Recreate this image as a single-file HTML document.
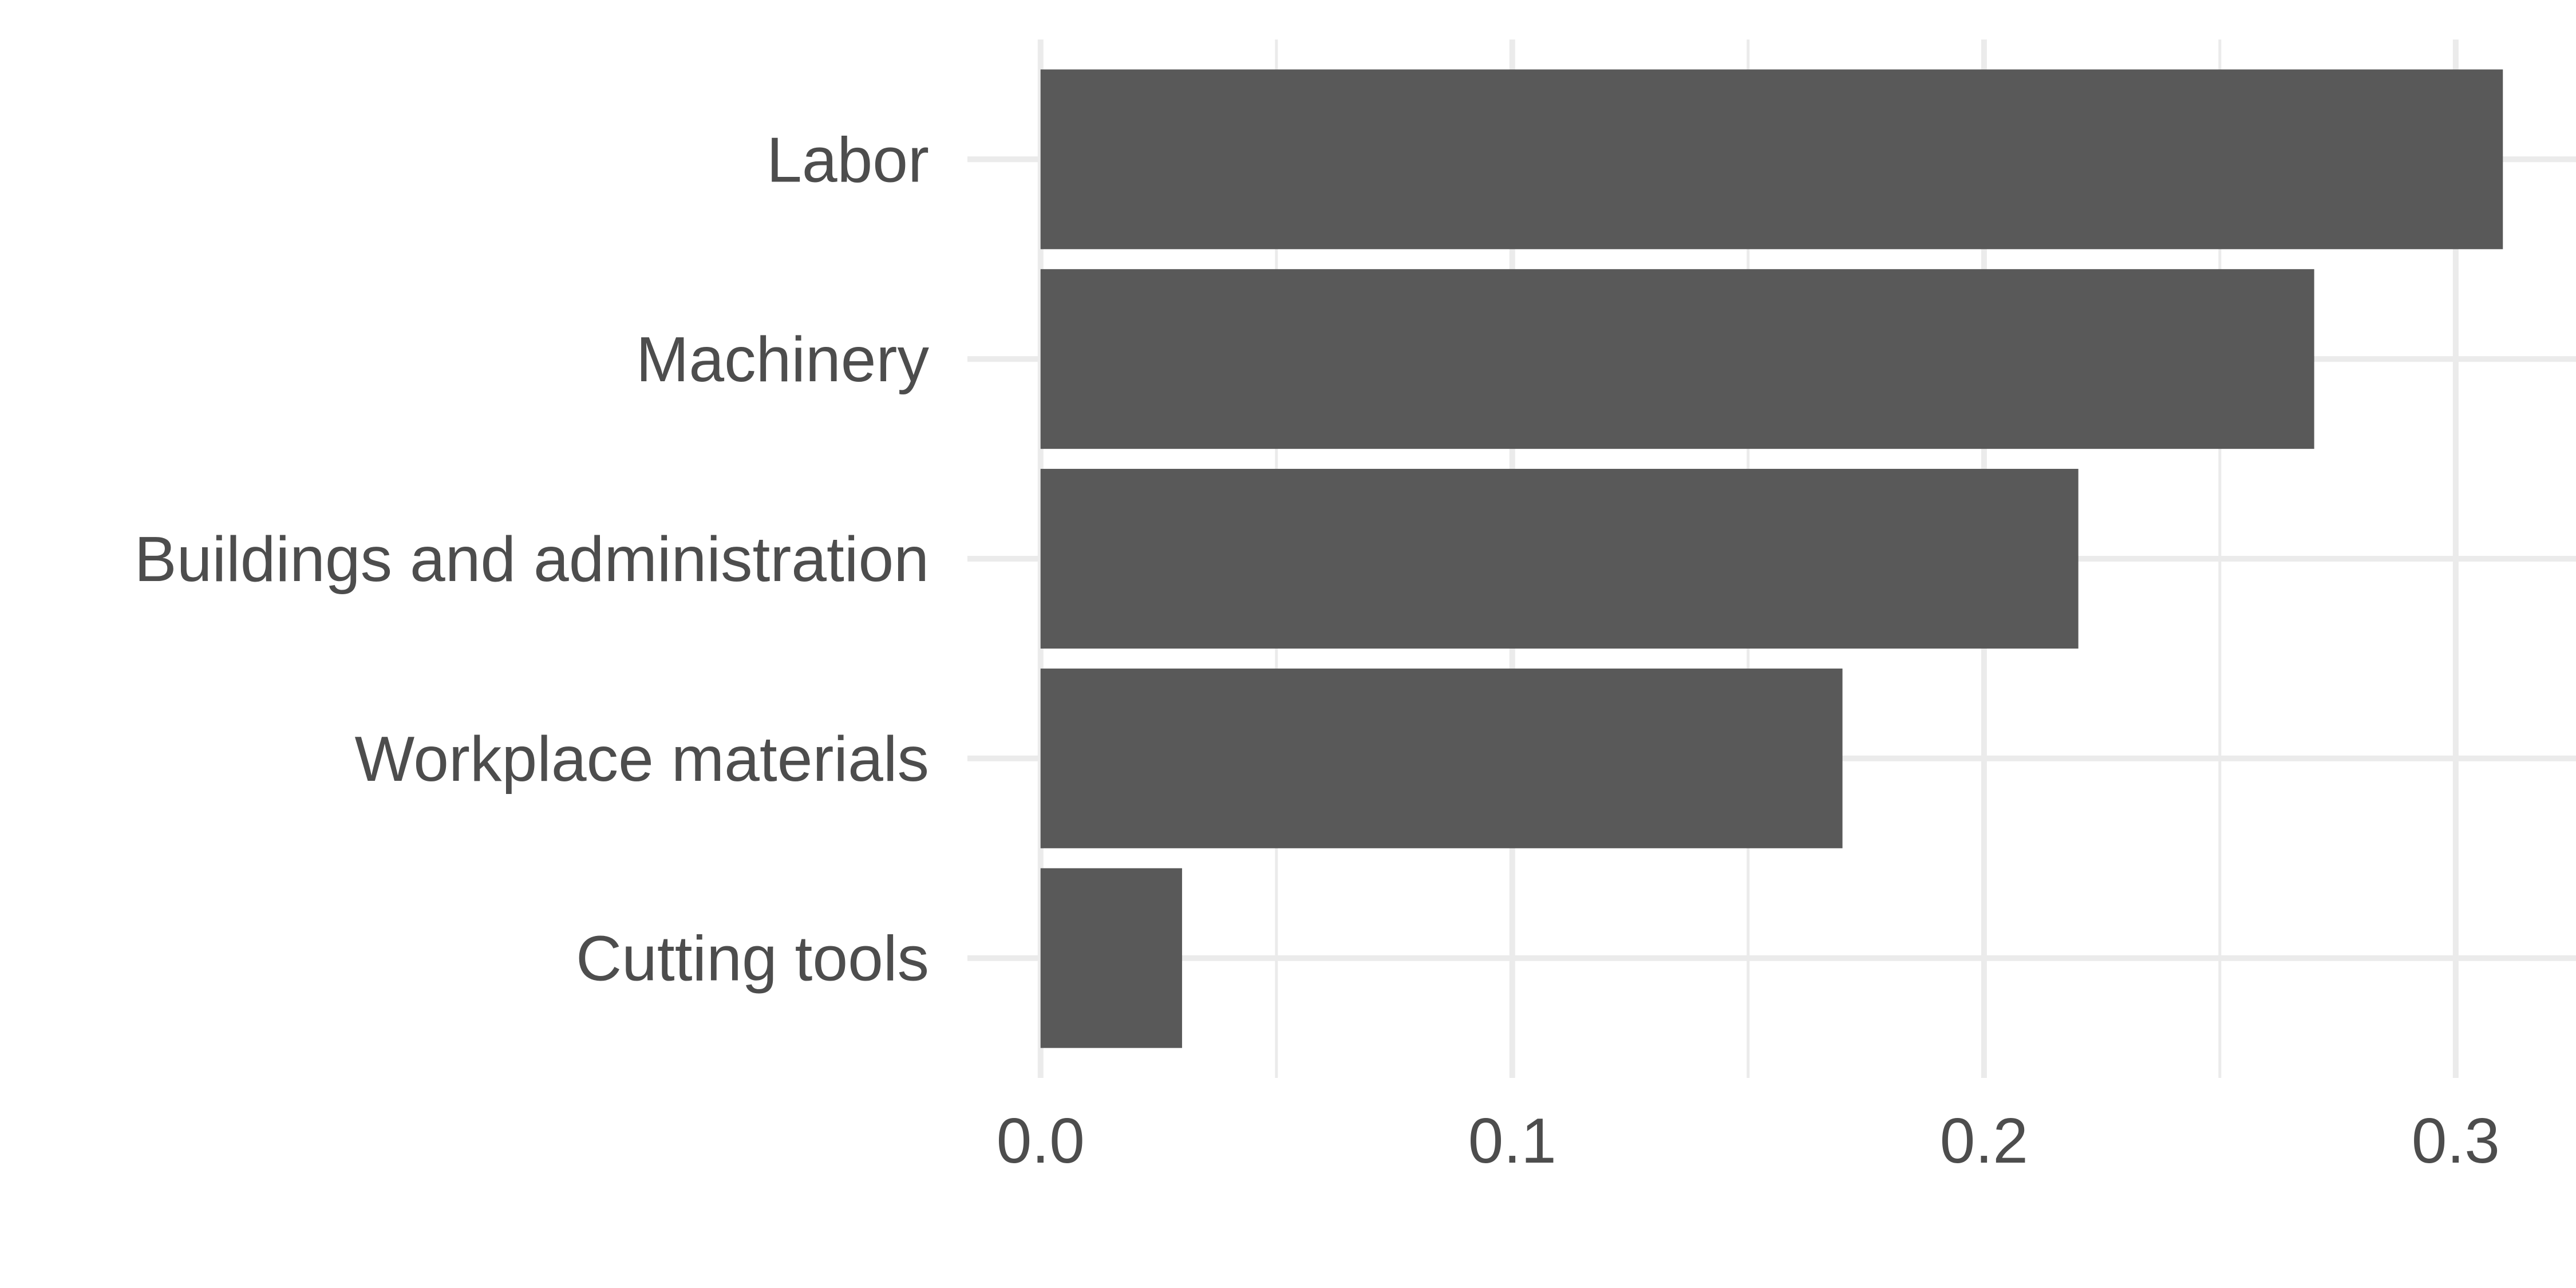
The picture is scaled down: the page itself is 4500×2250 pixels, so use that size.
<!DOCTYPE html>
<html><head><meta charset="utf-8"><style>
html,body{margin:0;padding:0;background:#fff}
svg{display:block}
text{font-family:"Liberation Sans",Arial,sans-serif;fill:#4D4D4D}
</style></head><body>
<svg id="chart" width="4500" height="2250" viewBox="0 0 4500 2250">
<g id="grid"></g>
<g id="bars"></g>
<g id="ylabels"></g>
<g id="xlabels"></g>
</svg>
<script>
const categories = ["Labor","Machinery","Buildings and administration","Workplace materials","Cutting tools"];
const values = [0.31,0.27,0.22,0.17,0.03];
const xTicks = [0,0.1,0.2,0.3];
const xTickLabels = ["0.0","0.1","0.2","0.3"];
const xMinor = [0.05,0.15,0.25];

const NS="http://www.w3.org/2000/svg";
const panelL=1690, panelR=4500, panelT=69, panelB=1883;
const xMax=Math.max(...values), pad=xMax*0.05;
const x=v=>panelL+(v+pad)/(xMax+2*pad)*(panelR-panelL);
const band=(panelB-panelT)/(categories.length-1+1.2);
const yC=i=>panelT+band*(0.6+i);
function mk(tag,attrs,parent){const e=document.createElementNS(NS,tag);for(const k in attrs)e.setAttribute(k,attrs[k]);parent.appendChild(e);return e;}
const grid=document.getElementById('grid');
xMinor.forEach(v=>{const l=mk('line',{x1:x(v),x2:x(v),y1:panelT,y2:panelB,stroke:'#EBEBEB','stroke-width':5},grid);

});
xTicks.forEach(v=>{const l=mk('line',{x1:x(v),x2:x(v),y1:panelT,y2:panelB,stroke:'#EBEBEB','stroke-width':10},grid);

});
categories.forEach((c,i)=>{const l=mk('line',{x1:panelL,x2:panelR,y1:yC(i),y2:yC(i),stroke:'#EBEBEB','stroke-width':10},grid);

});
const bars=document.getElementById('bars');
const ylab=document.getElementById('ylabels');
categories.forEach((c,i)=>{
 const h=band*0.9;
 const r=mk('rect',{x:x(0),y:yC(i)-h/2,width:x(values[i])-x(0),height:h,fill:'#595959'},bars);
 
 
 const t=mk('text',{x:1623,y:yC(i)+39,'text-anchor':'end','font-size':111},ylab);
 t.textContent=c;
 
 
});
const xlab=document.getElementById('xlabels');
xTicks.forEach((v,i)=>{const t=mk('text',{x:x(v),y:2031,'text-anchor':'middle','font-size':111},xlab);
 t.textContent=xTickLabels[i];
 
 });
</script>
</body></html>
